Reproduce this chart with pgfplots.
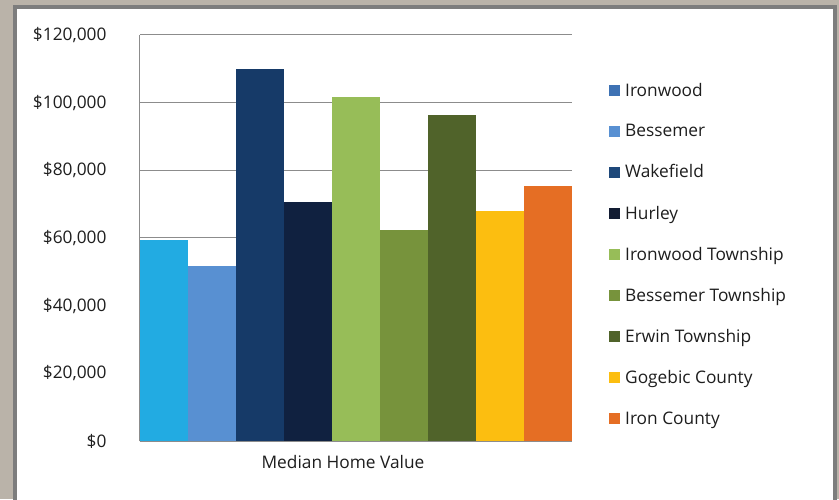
\documentclass[border=0pt]{standalone}
\usepackage{pgfplots}
\pgfplotsset{compat=1.18}
\usepackage{fontspec}
\setmainfont{Open Sans}
\definecolor{bgc}{RGB}{186,179,169}
\definecolor{frame}{RGB}{125,125,125}
\definecolor{txt}{RGB}{30,30,30}
\definecolor{grd}{RGB}{140,140,140}
\definecolor{cA}{RGB}{34,171,226}
\definecolor{cB}{RGB}{88,144,210}
\definecolor{cC}{RGB}{22,58,104}
\definecolor{cD}{RGB}{16,33,64}
\definecolor{cE}{RGB}{151,189,88}
\definecolor{cF}{RGB}{119,147,60}
\definecolor{cG}{RGB}{80,99,42}
\definecolor{cH}{RGB}{252,190,16}
\definecolor{cI}{RGB}{229,110,36}
\definecolor{lA}{RGB}{62,114,180}
\definecolor{lB}{RGB}{88,144,210}
\definecolor{lC}{RGB}{30,72,122}
\definecolor{lD}{RGB}{18,28,50}
\definecolor{lE}{RGB}{151,189,88}
\definecolor{lF}{RGB}{119,147,60}
\definecolor{lG}{RGB}{80,99,42}
\definecolor{lH}{RGB}{252,190,16}
\definecolor{lI}{RGB}{229,110,36}
\newcommand{\legsq}[1]{\fill[#1] (0pt,-5.5pt) rectangle (11pt,5.5pt);}
\begin{document}
\begin{tikzpicture}[x=1pt,y=1pt,font=\fontsize{17.3}{20}\selectfont]
\useasboundingbox (0,0) rectangle (839,499);
\clip (0,0) rectangle (839,499);
\fill[bgc] (0,0) rectangle (839,499);
\filldraw[fill=white,draw=frame,line width=4pt] (15,-10) rectangle (834.5,492);
\begin{axis}[
  at={(140pt,58pt)}, anchor=south west,
  scale only axis, width=432pt, height=406pt,
  ybar=0pt, bar width=48pt,
  xmin=-0.5, xmax=0.5, ymin=0, ymax=120000,
  scaled y ticks=false,
  xtick={0}, xticklabels={Median Home Value},
  xticklabel style={xshift=-13pt, yshift=-11pt, text=txt},
  ytick={0,20000,40000,60000,80000,100000,120000},
  yticklabels={{\$0},{\$20,000},{\$40,000},{\$60,000},{\$80,000},{\$100,000},{\$120,000}},
  yticklabel style={xshift=-30pt, text=txt},
  major tick length=0pt,
  ymajorgrids, grid style={grd, line width=1pt},
  axis x line*=bottom, axis y line*=left,
  axis line style={grd, line width=1pt},
  axis line style={-},
  legend style={at={(1,1)}, anchor=north west, xshift=34pt, yshift=-44pt,
    draw=none, fill=none, row sep=22.5pt, text=txt,
    /tikz/every odd column/.append style={column sep=3pt},
    font=\fontsize{17.3}{20}\selectfont},
  legend cell align=left,
]
\addplot[fill=cA, draw=none, legend image code/.code={\legsq{lA}}] coordinates {(0,59500)};
\addplot[fill=cB, draw=none, legend image code/.code={\legsq{lB}}] coordinates {(0,51800)};
\addplot[fill=cC, draw=none, legend image code/.code={\legsq{lC}}] coordinates {(0,110000)};
\addplot[fill=cD, draw=none, legend image code/.code={\legsq{lD}}] coordinates {(0,70700)};
\addplot[fill=cE, draw=none, legend image code/.code={\legsq{lE}}] coordinates {(0,101800)};
\addplot[fill=cF, draw=none, legend image code/.code={\legsq{lF}}] coordinates {(0,62400)};
\addplot[fill=cG, draw=none, legend image code/.code={\legsq{lG}}] coordinates {(0,96400)};
\addplot[fill=cH, draw=none, legend image code/.code={\legsq{lH}}] coordinates {(0,68000)};
\addplot[fill=cI, draw=none, legend image code/.code={\legsq{lI}}] coordinates {(0,75400)};
\legend{Ironwood,Bessemer,Wakefield,Hurley,Ironwood Township,Bessemer Township,Erwin Township,Gogebic County,Iron County}
\end{axis}
\end{tikzpicture}
\end{document}
